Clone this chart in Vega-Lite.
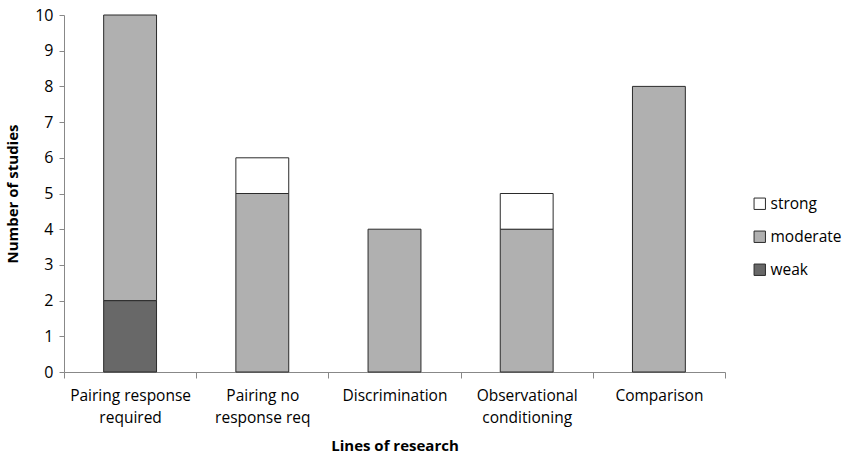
{
  "$schema": "https://vega.github.io/schema/vega-lite/v6.json",
  "width": 661,
  "height": 357,
  "autosize": "none",
  "padding": {"left": 64, "top": 15, "right": 117, "bottom": 83},
  "background": "white",
  "config": {
    "view": {"stroke": null},
    "font": "Open Sans",
    "axis": {"labelFont": "Open Sans", "titleFont": "Open Sans", "labelColor": "#000", "titleColor": "#000"}
  },
  "data": {
    "values": [
      {"line": "Pairing response required", "strength": "weak", "ord": 1, "n": 2},
      {"line": "Pairing response required", "strength": "moderate", "ord": 2, "n": 8},
      {"line": "Pairing no response req", "strength": "moderate", "ord": 2, "n": 5},
      {"line": "Pairing no response req", "strength": "strong", "ord": 3, "n": 1},
      {"line": "Discrimination", "strength": "moderate", "ord": 2, "n": 4},
      {"line": "Observational conditioning", "strength": "moderate", "ord": 2, "n": 4},
      {"line": "Observational conditioning", "strength": "strong", "ord": 3, "n": 1},
      {"line": "Comparison", "strength": "moderate", "ord": 2, "n": 8}
    ]
  },
  "mark": {"type": "bar", "width": {"band": 0.4}, "stroke": "#2b2b2b", "strokeWidth": 1},
  "encoding": {
    "x": {
      "field": "line",
      "type": "nominal",
      "sort": ["Pairing response required", "Pairing no response req", "Discrimination", "Observational conditioning", "Comparison"],
      "scale": {"paddingInner": 0, "paddingOuter": 0},
      "axis": {
        "title": "Lines of research",
        "titleFontSize": 15,
        "titleFontWeight": "bold",
        "titlePadding": 13,
        "labelAngle": 0,
        "labelFontSize": 15.5,
        "labelLineHeight": 22,
        "labelPadding": 10,
        "tickBand": "extent",
        "tickSize": 6,
        "tickColor": "#888",
        "domainColor": "#888",
        "labelExpr": "datum.label == 'Pairing response required' ? ['Pairing response', 'required'] : datum.label == 'Pairing no response req' ? ['Pairing no', 'response req'] : datum.label == 'Observational conditioning' ? ['Observational', 'conditioning'] : datum.label"
      }
    },
    "y": {
      "field": "n",
      "type": "quantitative",
      "stack": "zero",
      "scale": {"domain": [0, 10], "nice": false},
      "axis": {
        "title": "Number of studies",
        "titleFontSize": 15,
        "titleFontWeight": "bold",
        "titlePadding": 14,
        "values": [0,1,2,3,4,5,6,7,8,9,10],
        "labelFontSize": 16,
        "labelPadding": 6,
        "tickSize": 5,
        "tickColor": "#888",
        "domainColor": "#888",
        "grid": false
      }
    },
    "order": {"field": "ord", "type": "quantitative"},
    "color": {
      "field": "strength",
      "type": "nominal",
      "scale": {"domain": ["strong", "moderate", "weak"], "range": ["#ffffff", "#b0b0b0", "#686868"]},
      "legend": {
        "title": null,
        "orient": "none",
        "legendX": 688,
        "legendY": 181,
        "symbolType": "square",
        "symbolSize": 130,
        "symbolStrokeColor": "#2b2b2b",
        "symbolStrokeWidth": 1,
        "labelFontSize": 15.5,
        "labelFont": "Open Sans",
        "rowPadding": 16,
        "labelOffset": 3
      }
    }
  }
}
